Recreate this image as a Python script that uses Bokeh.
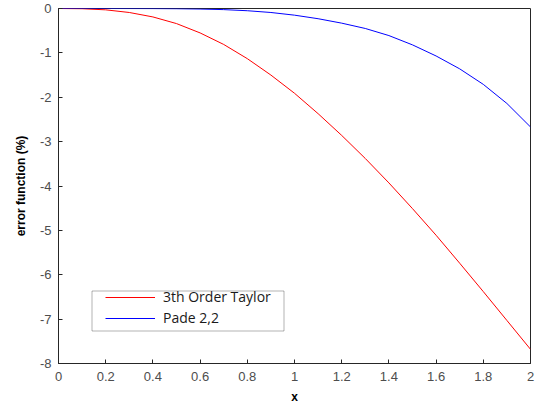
from bokeh.plotting import figure
from bokeh.models import Legend, LegendItem, FixedTicker, Range1d, BoxAnnotation
from bokeh.embed import file_html
from bokeh.resources import INLINE

x_vals = [0.0, 0.1, 0.2, 0.3, 0.4, 0.5, 0.6, 0.7, 0.8, 0.9, 1.0,
          1.1, 1.2, 1.3, 1.4, 1.5, 1.6, 1.7, 1.8, 1.9, 2.0]
taylor3 = [0.0, -0.005, -0.03, -0.09, -0.19, -0.34, -0.55, -0.81, -1.13, -1.50, -1.91,
           -2.37, -2.86, -3.38, -3.93, -4.51, -5.11, -5.74, -6.38, -7.03, -7.68]
pade22 = [0.0, 0.0, 0.0, -0.001, -0.002, -0.005, -0.012, -0.025, -0.05, -0.09, -0.15,
          -0.23, -0.33, -0.45, -0.61, -0.82, -1.07, -1.36, -1.71, -2.14, -2.67]
series_names = ["3th Order Taylor", "Pade 2,2"]
x_ticks = [0, 0.2, 0.4, 0.6, 0.8, 1, 1.2, 1.4, 1.6, 1.8, 2]
x_tick_labels = ["0", "0.2", "0.4", "0.6", "0.8", "1", "1.2", "1.4", "1.6", "1.8", "2"]
y_ticks = [-8, -7, -6, -5, -4, -3, -2, -1, 0]
y_tick_labels = ["-8", "-7", "-6", "-5", "-4", "-3", "-2", "-1", "0"]

p = figure(width=538, height=407, output_backend="svg", toolbar_location=None,
           x_range=Range1d(0, 2), y_range=Range1d(-8, 0),
           min_border_left=58, min_border_right=8, min_border_top=8, min_border_bottom=44)

r1 = p.line(x_vals, taylor3, line_color="#ff0000", line_width=1)
r2 = p.line(x_vals, pade22, line_color="#0000ff", line_width=1)

p.xgrid.visible = False
p.ygrid.visible = False
p.outline_line_color = "#262626"
p.outline_line_width = 1
p.background_fill_color = "white"
p.border_fill_color = "white"

for ax in (p.xaxis[0], p.yaxis[0]):
    ax.major_tick_in = 4
    ax.major_tick_out = 0
    ax.minor_tick_in = 0
    ax.minor_tick_out = 0
    ax.axis_line_color = "#262626"
    ax.major_tick_line_color = "#262626"
    ax.major_label_text_font = "Liberation Sans"
    ax.major_label_text_font_size = "13px"
    ax.major_label_text_color = "#4d4d4d"
    ax.axis_label_text_font = "Liberation Sans"
    ax.axis_label_text_font_size = "12px"
    ax.axis_label_text_font_style = "bold"
    ax.axis_label_text_color = "black"

p.xaxis[0].ticker = FixedTicker(ticks=x_ticks)
p.xaxis[0].major_label_overrides = {t: l for t, l in zip(x_ticks, x_tick_labels)}
p.yaxis[0].ticker = FixedTicker(ticks=y_ticks)
p.yaxis[0].major_label_overrides = {t: l for t, l in zip(y_ticks, y_tick_labels)}
p.xaxis[0].axis_label = "x"
p.yaxis[0].axis_label = "error function (%)"
p.xaxis[0].major_label_standoff = 8
p.xaxis[0].axis_label_standoff = 6
p.yaxis[0].major_label_standoff = 7
p.yaxis[0].axis_label_standoff = 9

# legend frame drawn as a screen-space box (offsets from the frame's lower-left corner)
legend_box = BoxAnnotation(left=33.5, right=225.5, top=72.5, bottom=32.5,
                           left_units="screen", right_units="screen",
                           top_units="screen", bottom_units="screen",
                           fill_color="white", fill_alpha=1,
                           line_color="black", line_width=1, level="annotation")
p.add_layout(legend_box)

legend = Legend(items=[LegendItem(label=series_names[0], renderers=[r1]),
                       LegendItem(label=series_names[1], renderers=[r2])],
                location=(47, 36), orientation="vertical")
legend.glyph_width = 50
legend.glyph_height = 16
legend.label_height = 16
legend.label_standoff = 8
legend.spacing = 2
legend.padding = 0
legend.margin = 0
legend.border_line_alpha = 0
legend.background_fill_alpha = 0
legend.label_text_font = "Open Sans"
legend.label_text_font_size = "14px"
legend.label_text_line_height = 1.0
legend.label_text_color = "#1a1a1a"
p.add_layout(legend)

open("out.html", "w").write(file_html(p, INLINE))
